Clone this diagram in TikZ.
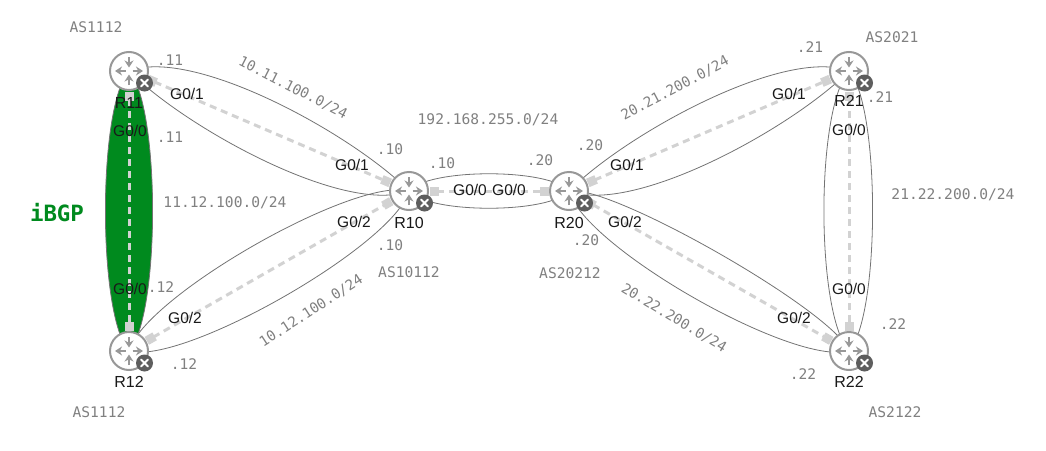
\documentclass[tikz,border=0pt]{standalone}
\usepackage{fontspec}
\setmainfont{Liberation Sans}
\newfontfamily\addrfont{DejaVu Sans Mono}
\usetikzlibrary{arrows.meta,backgrounds}
\definecolor{rgrey}{HTML}{989898}
\definecolor{xgrey}{HTML}{5E5E5E}
\definecolor{lgrey}{HTML}{D2D2D2}
\definecolor{addr}{HTML}{808080}
\definecolor{ibgp}{HTML}{008A1E}
\tikzset{
  x=1pt,y=-1pt,
  router/.style={circle,draw=rgrey,line width=2pt,fill=white,minimum size=38pt,inner sep=0pt},
  linkline/.style={draw=black!55,line width=0.8pt},
  session/.style={draw=lgrey,line width=3pt,dash pattern=on 7pt off 5pt,{Square[length=9pt,width=9pt]}-{Square[length=9pt,width=9pt]},shorten >=0.5pt,shorten <=0.5pt},
  iface/.style={font=\fontsize{15.5}{17}\selectfont,text=black!90,inner sep=0pt},
  rname/.style={font=\fontsize{16}{18}\selectfont,text=black!90,inner sep=0pt},
  addrlabel/.style={font=\addrfont\fontsize{14.6}{17}\selectfont,text=addr,inner sep=0pt},
  addrslant/.style={font=\addrfont\fontsize{14.2}{17}\selectfont,text=addr,inner sep=0pt},
  ibgplabel/.style={font=\addrfont\bfseries\fontsize{22.4}{24}\selectfont,text=ibgp,inner sep=0pt},
  xbadge/.style={circle,fill=xgrey,minimum size=17pt,inner sep=0pt},
  lensbig/.style={relative,out=44,in=158,out distance=69pt,in distance=80pt},
  lensbigb/.style={relative,out=22,in=136,out distance=80pt,in distance=69pt},
  lensdown/.style={relative,out=-22,in=-136,out distance=80pt,in distance=69pt},
  lensdownb/.style={relative,out=-44,in=-158,out distance=69pt,in distance=80pt},
  lenssym/.style={relative,out=#1,in=180-#1,out distance=56pt,in distance=56pt},
  lensv/.style={relative,out=#1,in=180-#1,out distance=47pt,in distance=47pt},
  lensw/.style={relative,out=#1,in=180-#1,out distance=50pt,in distance=50pt},
}
\newcommand{\routericon}[1]{%
  \begin{scope}[shift={(#1)},draw=rgrey,line width=1.9pt,-{Stealth[length=7pt,width=9pt]}]
    \draw (0,-14) -- (0,-3.5);
    \draw (0,14) -- (0,3.5);
    \draw (-3.5,0) -- (-14,0);
    \draw (3.5,0) -- (14,0);
  \end{scope}}
\newcommand{\xmark}[1]{%
  \draw[white,line width=2pt,line cap=round] ([shift={(-3.4,-3.4)}]#1.center) -- ([shift={(3.4,3.4)}]#1.center)
    ([shift={(-3.4,3.4)}]#1.center) -- ([shift={(3.4,-3.4)}]#1.center);}
\begin{document}
\begin{tikzpicture}
\useasboundingbox (0,0) rectangle (1046,450);
% routers
\node[router] (r11) at (129,71) {};
\node[router] (r12) at (129,351) {};
\node[router] (r10) at (409,191) {};
\node[router] (r20) at (569,191) {};
\node[router] (r21) at (849,71) {};
\node[router] (r22) at (849,351) {};
\begin{scope}[on background layer]
% green lens
\fill[ibgp] (r11.center) to[lensv=42] (r12.center) to[lensv=42] (r11.center) -- cycle;
\draw[linkline] (r11.center) to[lensv=42] (r12.center) to[lensv=42] (r11.center);
% lens links
\draw[linkline] (r11.center) to[lensbig] (r10.center);
\draw[linkline] (r11.center) to[lensdown] (r10.center);
\draw[linkline] (r12.center) to[lenssym=45] (r10.center);
\draw[linkline] (r12.center) to[lenssym=-45] (r10.center);
\draw[linkline] (r10.center) to[relative,out=50,in=130,out distance=30pt,in distance=30pt] (r20.center);
\draw[linkline] (r10.center) to[relative,out=-50,in=-130,out distance=30pt,in distance=30pt] (r20.center);
\draw[linkline] (r20.center) to[lensbigb] (r21.center);
\draw[linkline] (r20.center) to[lensdownb] (r21.center);
\draw[linkline] (r20.center) to[relative,out=40,in=140,out distance=42pt,in distance=42pt] (r22.center);
\draw[linkline] (r20.center) to[relative,out=-45,in=-135,out distance=58pt,in distance=58pt] (r22.center);
\draw[linkline] (r21.center) to[lensv=42] (r22.center);
\draw[linkline] (r21.center) to[lensw=-42] (r22.center);
\end{scope}
% sessions
\draw[session] (r11) -- (r12);
\draw[session] (r11) -- (r10);
\draw[session] (r12) -- (r10);
\draw[session] (r10) -- (r20);
\draw[session] (r20) -- (r21);
\draw[session] (r20) -- (r22);
\draw[session] (r21) -- (r22);
% icons
\foreach \n in {11,12,10,20,21,22}{
  \routericon{r\n.center}
  \node[xbadge] (x\n) at ([shift={(15.5,12)}]r\n.center) {};
  \xmark{x\n}
}
% names
\node[rname] (n11) at (129,103) {R11};
\node[rname] (n12) at (129,382) {R12};
\node[rname] (n10) at (409,223) {R10};
\node[rname] (n20) at (569,223) {R20};
\node[rname] (n21) at (849,101) {R21};
\node[rname] (n22) at (849,382) {R22};
% interfaces
\node[iface] (i1) at (187,94) {G0/1};
\node[iface] (i2) at (130,131) {G0/0};
\node[iface] (i3) at (130,289) {G0/0};
\node[iface] (i4) at (185,318) {G0/2};
\node[iface] (i5) at (352,165) {G0/1};
\node[iface] (i6) at (354,222) {G0/2};
\node[iface] (i7) at (470,190) {G0/0};
\node[iface] (i8) at (509,190) {G0/0};
\node[iface] (i9) at (627,165) {G0/1};
\node[iface] (i10) at (625,222) {G0/2};
\node[iface] (i11) at (789,94) {G0/1};
\node[iface] (i12) at (849,130) {G0/0};
\node[iface] (i13) at (849,289) {G0/0};
\node[iface] (i14) at (794,318) {G0/2};
% addresses
\node[addrlabel] (a1) at (96,27) {AS1112};
\node[addrlabel] (a2) at (99,412) {AS1112};
\node[addrlabel] (a3) at (409,272) {AS10112};
\node[addrlabel] (a4) at (570,273) {AS20212};
\node[addrlabel] (a5) at (892,37) {AS2021};
\node[addrlabel] (a6) at (895,412) {AS2122};
\node[addrlabel] (a7) at (170,60) {.11};
\node[addrlabel] (a8) at (170,137) {.11};
\node[addrlabel] (a9) at (161,287) {.12};
\node[addrlabel] (a10) at (184,364) {.12};
\node[addrlabel] (a11) at (390,149) {.10};
\node[addrlabel] (a12) at (442,163) {.10};
\node[addrlabel] (a13) at (390,245) {.10};
\node[addrlabel] (a14) at (540,160) {.20};
\node[addrlabel] (a15) at (590,145) {.20};
\node[addrlabel] (a16) at (586,240) {.20};
\node[addrlabel] (a17) at (810,47) {.21};
\node[addrlabel] (a18) at (880,97) {.21};
\node[addrlabel] (a19) at (893,324) {.22};
\node[addrlabel] (a20) at (803,374) {.22};
\node[addrlabel] (a21) at (488,120) {192.168.255.0/24};
\node[addrlabel] (a22) at (225,203) {11.12.100.0/24};
\node[addrlabel] (a23) at (953,195) {21.22.200.0/24};
\node[addrslant,rotate=-27] (a24) at (293,88) {10.11.100.0/24};
\node[addrslant,rotate=28] (a25) at (675,88) {20.21.200.0/24};
\node[addrslant,rotate=33] (a26) at (311,311) {10.12.100.0/24};
\node[addrslant,rotate=-31] (a27) at (674,318) {20.22.200.0/24};
\node[ibgplabel] (a28) at (57,213) {iBGP};
\end{tikzpicture}
\end{document}
